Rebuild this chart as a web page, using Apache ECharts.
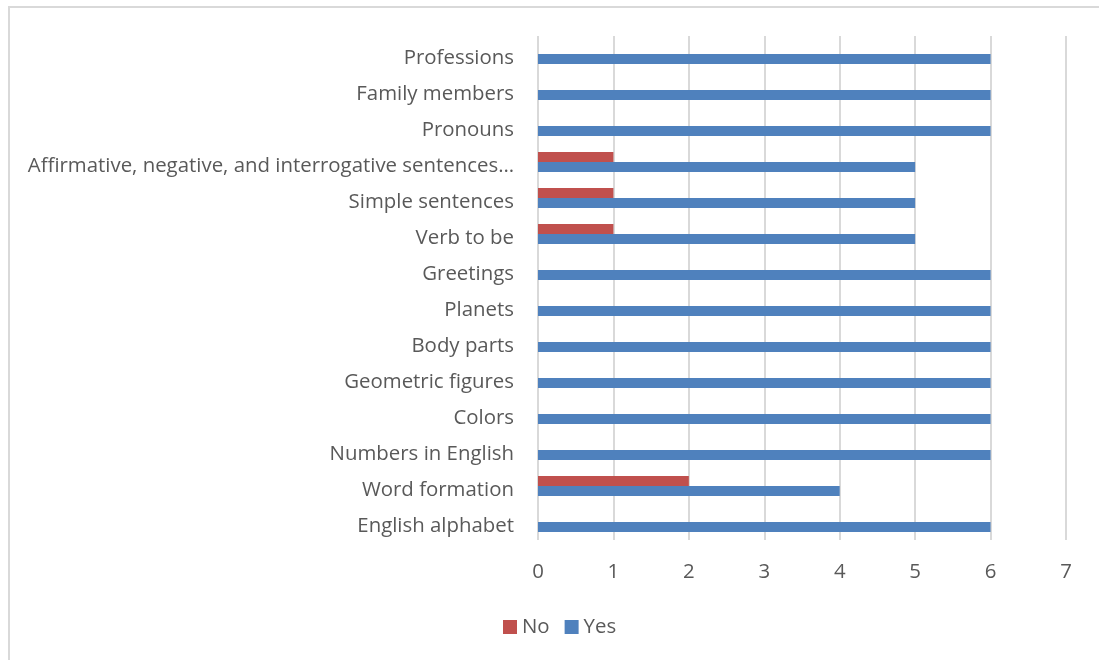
<!DOCTYPE html>
<html>
<head>
<meta charset="utf-8">
<script src="https://cdn.jsdelivr.net/npm/echarts@6/dist/echarts.min.js"></script>
<style>
  html, body { margin: 0; padding: 0; background: #ffffff; }
  #chart { width: 1099px; height: 660px; }
</style>
</head>
<body>
<div id="chart"></div>
<script>
// Topics, listed bottom to top as the category axis draws them
const topics = [
  'English alphabet',
  'Word formation',
  'Numbers in English',
  'Colors',
  'Geometric figures',
  'Body parts',
  'Planets',
  'Greetings',
  'Verb to be',
  'Simple sentences',
  'Affirmative, negative, and interrogative sentences\u2026',
  'Pronouns',
  'Family members',
  'Professions'
];
const yesCounts = [6, 4, 6, 6, 6, 6, 6, 6, 5, 5, 5, 6, 6, 6];
const noCounts  = [0, 2, 0, 0, 0, 0, 0, 0, 1, 1, 1, 0, 0, 0];
const xTicks = [0, 1, 2, 3, 4, 5, 6, 7];

const FONT = '"Open Sans", "Noto Sans", sans-serif';
const TEXT = '#595959';
const SIZE = 20.4;

const chart = echarts.init(document.getElementById('chart'), null, { renderer: 'canvas' });
chart.setOption({
  backgroundColor: '#ffffff',
  animation: false,
  graphic: [
    {
      // chart frame
      type: 'rect',
      shape: { x: 9, y: 7, width: 1100, height: 670 },
      style: { fill: 'none', stroke: '#d9d9d9', lineWidth: 2 },
      silent: true
    }
  ],
  grid: { left: 538, right: 33, top: 36, bottom: 120, containLabel: false },
  legend: {
    data: ['No', 'Yes'],
    left: 498,
    top: 612,
    itemWidth: 14,
    itemHeight: 14,
    itemGap: 15,
    icon: 'rect',
    textStyle: { color: TEXT, fontSize: SIZE, fontFamily: FONT }
  },
  xAxis: {
    type: 'value',
    min: xTicks[0],
    max: xTicks[xTicks.length - 1],
    interval: 1,
    axisLine: { show: false },
    axisTick: { show: false },
    axisLabel: { color: TEXT, fontSize: SIZE, fontFamily: FONT, margin: 22 },
    splitLine: { show: true, lineStyle: { color: '#d9d9d9', width: 2 } }
  },
  yAxis: {
    type: 'category',
    data: topics,
    axisLine: { show: false },
    axisTick: { show: false },
    axisLabel: {
      color: TEXT, fontSize: SIZE, fontFamily: FONT, margin: 24,
      formatter: function (v) { return '{t|' + v + '}'; },
      rich: { t: { fontSize: SIZE, fontFamily: FONT, color: TEXT, padding: [8, 0, 0, 0] } }
    }
  },
  series: [
    {
      name: 'No',
      type: 'bar',
      data: noCounts,
      barWidth: 10,
      barGap: '0%',
      itemStyle: { color: '#c0504d' }
    },
    {
      name: 'Yes',
      type: 'bar',
      data: yesCounts,
      barWidth: 10,
      barGap: '0%',
      itemStyle: { color: '#4f81bd' }
    }
  ]
});
</script>
</body>
</html>
